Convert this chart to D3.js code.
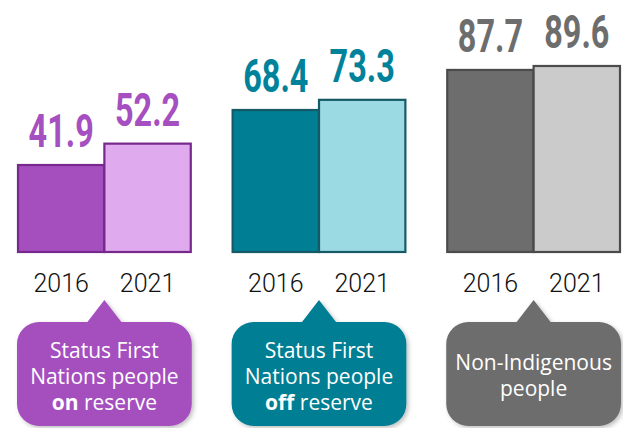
<!DOCTYPE html>
<html lang="en">
<head>
<meta charset="utf-8">
<title>Bars by group</title>
<style>
body{
  margin: 0;
  background: #fff;
}
.val{
  font: 700 47px Roboto, sans-serif;
  text-anchor: middle;
}
.year{
  font: 300 25px Roboto, sans-serif;
  text-anchor: middle;
  fill: #111;
}
.bubble text{
  font: 400 21px "Open Sans", sans-serif;
  fill: #fff;
  text-anchor: middle;
}
</style>
</head>
<body>
<div id="chart"></div>
<script src="https://d3js.org/d3.v7.min.js"></script>
<script>
  // data
  const groups = ["on", "off", "non"];
  const years = ["2016", "2021"];
  const values2016 = [41.9, 68.4, 87.7];
  const values2021 = [52.2, 73.3, 89.6];
  const bubbleLines = [
    [["Status First"], ["Nations people"], ["on", " reserve"]],
    [["Status First"], ["Nations people"], ["off", " reserve"]],
    [["Non-Indigenous"], ["people"]]
  ];
  const darkColors = ["#a54fbf", "#007e93", "#6d6d6d"];
  const lightColors = ["#dfaaee", "#9bd9e3", "#cbcbcb"];
  const strokeColors = ["#76288c", "#155a66", "#4b4b4b"];
  const labelColors = ["#a64fc0", "#00829a", "#6d6d6d"];

  const width = 623, height = 428;
  const svg = d3.select("#chart").append("svg")
    .attr("width", width).attr("height", height);

  const defs = svg.append("defs");
  const f = defs.append("filter").attr("id", "shadow")
    .attr("x", "-10%").attr("y", "-10%").attr("width", "130%").attr("height", "130%");
  f.append("feDropShadow").attr("dx", 2).attr("dy", 2).attr("stdDeviation", 2)
    .attr("flood-color", "#000").attr("flood-opacity", 0.25);

  const x = d3.scaleBand().domain(groups).range([18, 620]).paddingInner(0.195);
  const xi = d3.scaleBand().domain(years).range([0, x.bandwidth()]);
  const y = d3.scaleLinear().domain([0, 100]).range([252, 44.4]);

  const rows = groups.map((g, i) => ({
    g, i, vals: [values2016[i], values2021[i]]
  }));

  const grp = svg.selectAll("g.grp").data(rows).join("g")
    .attr("class", "grp")
    .attr("transform", d => `translate(${x(d.g)},0)`);

  // bars
  grp.selectAll("rect").data(d => d.vals.map((v, k) => ({v, k, i: d.i})))
    .join("rect")
    .attr("x", d => xi(years[d.k]))
    .attr("y", d => y(d.v))
    .attr("width", xi.bandwidth())
    .attr("height", d => y(0) - y(d.v))
    .attr("fill", d => d.k === 0 ? darkColors[d.i] : lightColors[d.i])
    .attr("stroke", d => strokeColors[d.i])
    .attr("stroke-width", 2.2);

  // value labels (condensed)
  grp.selectAll("g.val").data(d => d.vals.map((v, k) => ({v, k, i: d.i})))
    .join("g")
    .attr("class", "val")
    .attr("transform", d => `translate(${xi(years[d.k]) + xi.bandwidth() / 2},${y(d.v) - 18}) scale(0.69,1)`)
    .append("text")
    .attr("class", "val")
    .attr("fill", d => labelColors[d.i])
    .text(d => d.v.toFixed(1));

  // year labels
  grp.selectAll("text.year").data(years).join("text")
    .attr("class", "year")
    .attr("x", d => xi(d) + xi.bandwidth() / 2)
    .attr("y", 292)
    .text(d => d);

  // bubbles
  const bw = x.bandwidth() + 2, bTop = 322, bBottom = 426, r = 22;
  const bubble = grp.append("g").attr("class", "bubble");
  bubble.append("path")
    .attr("fill", d => darkColors[d.i])
    .attr("filter", "url(#shadow)")
    .attr("d", () => {
      const p = d3.path();
      const cx = bw / 2 - 1, x0 = -1, x1 = bw - 1;
      p.moveTo(x0 + r, bTop);
      p.lineTo(cx - 17, bTop);
      p.lineTo(cx, 300);
      p.lineTo(cx + 17, bTop);
      p.lineTo(x1 - r, bTop);
      p.arcTo(x1, bTop, x1, bTop + r, r);
      p.lineTo(x1, bBottom - r);
      p.arcTo(x1, bBottom, x1 - r, bBottom, r);
      p.lineTo(x0 + r, bBottom);
      p.arcTo(x0, bBottom, x0, bBottom - r, r);
      p.lineTo(x0, bTop + r);
      p.arcTo(x0, bTop, x0 + r, bTop, r);
      p.closePath();
      return p.toString();
    });

  bubble.each(function(d) {
    const lines = bubbleLines[d.i];
    const y0 = lines.length === 3 ? 358 : 370;
    const t = d3.select(this).selectAll("text").data(lines).join("text")
      .attr("x", bw / 2 - 1)
      .attr("y", (l, j) => y0 + j * 26);
    t.each(function(l) {
      const el = d3.select(this);
      l.forEach((s, k) => {
        el.append("tspan")
          .attr("font-weight", l.length > 1 && k === 0 ? 700 : 400)
          .text(s);
      });
    });
  });
</script>
</body>
</html>
